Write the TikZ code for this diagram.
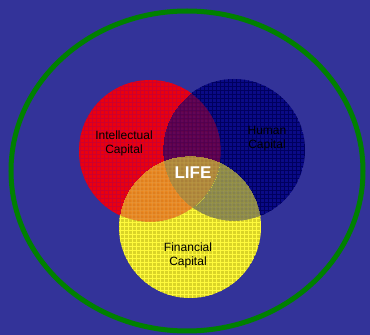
\documentclass[tikz,border=0pt]{standalone}
\usepackage{fontspec}
\setmainfont{Liberation Sans}
\definecolor{bgblue}{RGB}{51,51,153}
\definecolor{ringgreen}{RGB}{0,128,0}
\definecolor{icred}{RGB}{234,0,14}
\definecolor{icgrid}{RGB}{205,0,45}
\definecolor{hcblue}{RGB}{10,10,135}
\definecolor{hcgrid}{RGB}{0,0,95}
\definecolor{fcyellow}{RGB}{218,212,40}
\definecolor{fcgrid}{RGB}{255,250,60}

% one disc with its grid
\newcommand{\icdisc}{\fill[icred] (ic) circle (71pt);
  \draw[icgrid,gridline,step=4pt] (76,110) grid (224,258);}
\newcommand{\hcdisc}{\fill[hcblue] (hc) circle (71pt);
  \draw[hcgrid,gridline,step=4pt] (160,112) grid (308,260);}
\newcommand{\fcdisc}{\fill[fcyellow] (fc) circle (71pt);
  \draw[fcgrid,gridline,step=4pt] (116,34) grid (264,182);}

\begin{document}
\begin{tikzpicture}[x=1pt,y=1pt,
    capname/.style={font=\fontsize{12}{14}\selectfont,align=center,text=black},
    gridline/.style={line width=1pt},
    ring/.style={draw=ringgreen,line width=5pt},
    seethrough/.style={transparency group,opacity=0.6}]

% Background
\fill[bgblue] (0,0) rectangle (370,335);
\useasboundingbox (0,0) rectangle (370,335);

% Centres of the three circles
\coordinate (ic) at (150,184);
\coordinate (hc) at (234,185);
\coordinate (fc) at (190,108);

% Intellectual capital
\begin{scope}
\clip (ic) circle (71pt);
\icdisc
\end{scope}

% Human capital: plain outside the red disc, see-through over it
\begin{scope}
\clip (hc) circle (71pt);
\begin{scope}[even odd rule]
\clip (0,0) rectangle (370,335) (ic) circle (71pt);
\hcdisc
\end{scope}
\begin{scope}
\clip (ic) circle (71pt);
\begin{scope}[seethrough] \hcdisc \end{scope}
\end{scope}
\end{scope}

% Financial capital: plain outside both discs, see-through over them
\begin{scope}
\clip (fc) circle (71pt);
\begin{scope}[even odd rule]
\clip (0,0) rectangle (370,335) (ic) circle (71pt);
\clip (0,0) rectangle (370,335) (hc) circle (71pt);
\fcdisc
\end{scope}
\begin{scope}
\clip (ic) circle (71pt);
\begin{scope}[seethrough] \fcdisc \end{scope}
\end{scope}
\begin{scope}[even odd rule]
\clip (hc) circle (71pt);
\clip (0,0) rectangle (370,335) (ic) circle (71pt);
\begin{scope}[seethrough] \fcdisc \end{scope}
\end{scope}
\end{scope}

% Outer ring
\draw[ring] (187,164) ellipse (176pt and 160pt);

% Labels
\node[capname] (intel) at (124,192) {Intellectual\\Capital};
\node[capname] (human) at (267,196) {Human\\Capital};
\node[capname] (fin) at (188,80) {Financial\\Capital};
\node[font=\bfseries\fontsize{17}{17}\selectfont,text=white] (life) at (193,162) {LIFE};

\end{tikzpicture}
\end{document}
